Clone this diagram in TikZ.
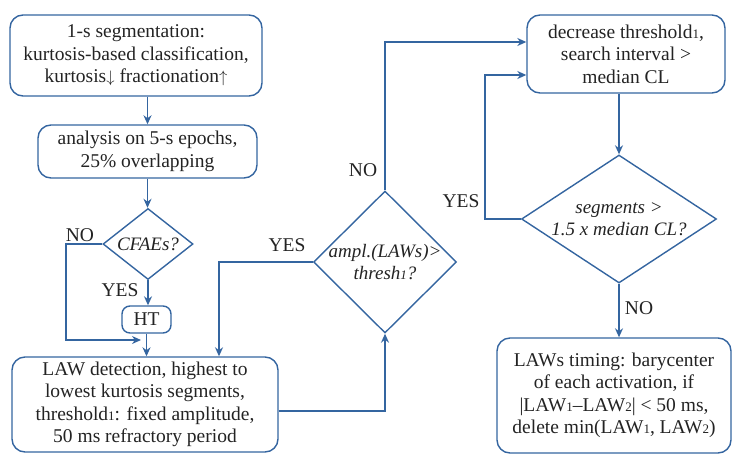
\documentclass[tikz,border=0pt]{standalone}
\usepackage{fontspec}
\setmainfont{Liberation Serif}
\usetikzlibrary{arrows.meta,shapes.geometric}
\definecolor{lineblue}{RGB}{52,101,160}
\definecolor{txt}{RGB}{35,35,35}
\newcommand\lsub[1]{{\fontsize{13}{13}\selectfont #1}}
\newcommand\arrd{\scalebox{0.8}{$\downarrow$}}
\newcommand\arru{\scalebox{0.8}{$\uparrow$}}
\tikzset{
  arr/.style={draw=lineblue,line width=1.4pt,-{Stealth[length=9pt,width=8pt]}},
  rbox/.style={draw=lineblue,line width=1.4pt,rounded corners=13pt,inner sep=0pt,
    align=center,text=txt,font=\fontsize{19.5}{22.5}\selectfont},
  dmd/.style={draw=lineblue,line width=1.4pt,diamond,inner sep=0pt},
  dtext/.style={align=center,text=txt,font=\fontsize{19}{22.5}\selectfont\itshape},
  lab/.style={text=txt,font=\fontsize{19.5}{20}\selectfont,inner sep=0pt}
}
\begin{document}
\begin{tikzpicture}[x=1pt,y=-1pt]
\useasboundingbox (0,0) rectangle (733,455);
% boxes
\node[rbox,minimum width=252pt,minimum height=81pt] (box1) at (136,55.5)
  {1-s segmentation:\\ kurtosis-based classification,\\ kurtosis\arrd\ fractionation\arru};
\node[rbox,minimum width=219pt,minimum height=53pt] (box2) at (147.5,151.5)
  {analysis on 5-s epochs,\\ 25\% overlapping};
\node[dmd,minimum width=90pt,minimum height=71pt] (cfae) at (148,244) {};
\node[dtext] (cfaet) at (cfae.center) {CFAEs?};
\node[rbox,rounded corners=8pt,minimum width=49pt,minimum height=27pt] (ht) at (146.5,319.5) {HT};
\node[rbox,minimum width=266pt,minimum height=95pt] (law) at (145,404.5)
  {LAW detection, highest to\\ lowest kurtosis segments,\\ threshold\lsub{1}: fixed amplitude,\\ 50 ms refractory period};
\node[dmd,minimum width=143pt,minimum height=142pt] (ampl) at (385,262) {};
\node[dtext] (amplt) at (ampl.center) {ampl.(LAWs)>\\ thresh\lsub{1}?};
\node[rbox,minimum width=198pt,minimum height=78pt] (dec) at (626,54)
  {decrease threshold\lsub{1},\\ search interval >\\ median CL};
\node[dmd,minimum width=195pt,minimum height=128pt] (seg) at (619,219) {};
\node[dtext] (segt) at (seg.center) {segments >\\ 1.5 x median CL?};
\node[rbox,minimum width=234pt,minimum height=115pt] (tim) at (614,395.5)
  {LAWs timing: barycenter\\ of each activation, if\\ |LAW\lsub{1}--LAW\lsub{2}| < 50 ms,\\ delete min(LAW\lsub{1}, LAW\lsub{2})};
% helper coordinates
\coordinate (nox) at (66,340);
\coordinate (noend) at (141,340);
\coordinate (yx) at (219,0);
\coordinate (lx) at (485,100);
% connectors
\draw[arr] (box1.south -| box2.north) -- (box2.north);
\draw[arr] (box2.south) -- (box2.south |- cfae.north);
\draw[arr] (cfae.south) -- (cfae.south |- ht.north);
\draw[arr] (ht.south) -- (ht.south |- law.north);
\draw[arr] (cfae.west) -| (nox) -- (noend);
\draw[arr] (ampl.west) -| (yx |- law.north);
\draw[arr] ([yshift=-6.5pt]law.east) -| (ampl.south);
\draw[arr] (ampl.north) |- ([yshift=12pt]dec.west);
\draw[arr] (dec.south -| seg.north) -- (seg.north);
\draw[arr] (seg.west) -| (lx) |- ([yshift=-21pt]dec.west);
\draw[arr] (seg.south) -- (seg.south |- tim.north);
% labels
\node[lab] (l1) at (80,235) {NO};
\node[lab] (l2) at (120,290) {YES};
\node[lab] (l3) at (287,245) {YES};
\node[lab] (l4) at (363,170) {NO};
\node[lab] (l5) at (461,201) {YES};
\node[lab] (l6) at (639,308) {NO};
\end{tikzpicture}
\end{document}
